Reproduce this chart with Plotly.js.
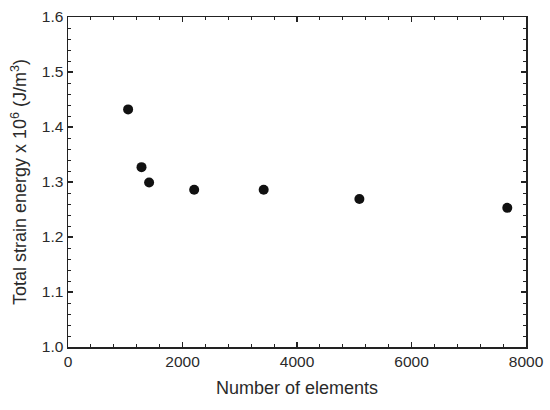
<!DOCTYPE html>
<html>
<head>
<meta charset="utf-8">
<script src="https://cdn.plot.ly/plotly-3.0.1.min.js"></script>
<style>html,body{margin:0;padding:0;background:#fff;}#chart{width:550px;height:410px;}</style>
</head>
<body>
<div id="chart"></div>
<script>
const elements = [1050, 1284, 1417, 2204, 3418, 5090, 7673];
const strainEnergy = [1.432, 1.327, 1.299, 1.286, 1.286, 1.269, 1.253];
const xTicks = [0, 2000, 4000, 6000, 8000];
const yTicks = [1.0, 1.1, 1.2, 1.3, 1.4, 1.5, 1.6];

const fontFam = 'Liberation Sans, Arial, sans-serif';
const axisCommon = {
  showline: true, linecolor: '#222', linewidth: 1.5, mirror: 'ticks',
  ticks: 'inside', ticklen: 5, tickwidth: 1.2, tickcolor: '#222',
  showgrid: false, zeroline: false,
  tickfont: {family: fontFam, size: 15.5, color: '#2a2a2a'}
};
const trace = {
  x: elements, y: strainEnergy, type: 'scatter', mode: 'markers',
  marker: {size: 10, color: '#111', line: {width: 0}},
  hoverinfo: 'skip'
};
const layout = {
  width: 550, height: 410,
  margin: {l: 68, r: 24, t: 17, b: 63},
  paper_bgcolor: '#fff', plot_bgcolor: '#fff',
  showlegend: false,
  xaxis: Object.assign({}, axisCommon, {
    range: [0, 8000], tickvals: xTicks, ticktext: xTicks.map(String),
    minor: {dtick: 400, ticks: 'inside', ticklen: 3, tickcolor: '#222', tickwidth: 1},
    title: {text: 'Number of elements', font: {family: fontFam, size: 18, color: '#2a2a2a'}, standoff: 12}
  }),
  yaxis: Object.assign({}, axisCommon, {
    range: [1.0, 1.6], tickvals: yTicks, ticktext: yTicks.map(v => v.toFixed(1)),
    minor: {dtick: 0.02, ticks: 'inside', ticklen: 3, tickcolor: '#222', tickwidth: 1},
    title: {text: 'Total strain energy x 10<sup>6</sup> (J/m<sup>3</sup>)', font: {family: fontFam, size: 18, color: '#2a2a2a'}, standoff: 10}
  })
};
Plotly.newPlot('chart', [trace], layout, {displayModeBar: false, staticPlot: true});
</script>
</body>
</html>
